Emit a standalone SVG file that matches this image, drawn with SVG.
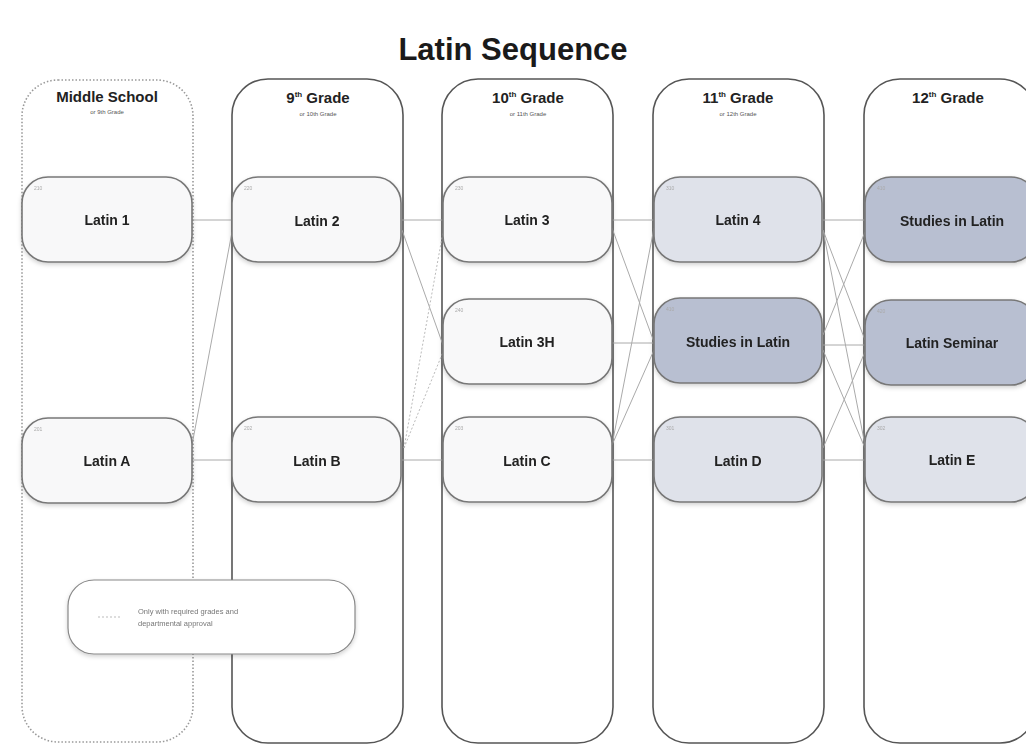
<svg xmlns="http://www.w3.org/2000/svg" width="1026" height="747" viewBox="0 0 1026 747">
<defs>
<style>
.col{fill:#fff;stroke:#555;stroke-width:1.6}
.colms{fill:#fff;stroke:#999;stroke-width:1.6;stroke-dasharray:1.5 2}
.node{stroke:#777;stroke-width:1.6}
.w{fill:#f8f8f9}
.l{fill:#dfe2ea}
.d{fill:#b8bfd1}
.t{font-family:"Liberation Sans",Arial,sans-serif;font-weight:bold;font-size:14px;fill:#222;text-anchor:middle}
.n{font-family:"Liberation Sans",Arial,sans-serif;font-size:5px;fill:#aaa}
.h{font-family:"Liberation Sans",Arial,sans-serif;font-weight:bold;font-size:15px;fill:#222;text-anchor:middle}
.s{font-family:"Liberation Sans",Arial,sans-serif;font-size:6px;fill:#555;text-anchor:middle}
.c{stroke:#aaa;stroke-width:1;fill:none}
.cd{stroke:#bbb;stroke-width:1;fill:none;stroke-dasharray:2 2}
</style>
<filter id="sh" x="-10%" y="-10%" width="130%" height="130%"><feDropShadow dx="0" dy="2" stdDeviation="2" flood-color="#000" flood-opacity="0.18"/></filter>
</defs>
<rect width="1026" height="747" fill="#fff"/>
<text x="513" y="60" font-family="Liberation Sans,Arial,sans-serif" font-weight="bold" font-size="31" fill="#1a1a1a" text-anchor="middle">Latin Sequence</text>

<g id="columns">
<g id="col-ms"><rect class="colms" x="22" y="80" width="171" height="662" rx="36"/>
<text class="h" x="107" y="102" font-size="12.5">Middle School</text><text class="s" x="107" y="114">or 9th Grade</text></g>
<g id="col-9"><rect class="col" x="232" y="79" width="171" height="664" rx="36"/>
<text class="h" x="318" y="103">9<tspan font-size="8" dy="-6">th</tspan><tspan dy="6"> Grade</tspan></text><text class="s" x="318" y="116">or 10th Grade</text></g>
<g id="col-10"><rect class="col" x="442" y="79" width="171" height="664" rx="36"/>
<text class="h" x="528" y="103">10<tspan font-size="8" dy="-6">th</tspan><tspan dy="6"> Grade</tspan></text><text class="s" x="528" y="116">or 11th Grade</text></g>
<g id="col-11"><rect class="col" x="653" y="79" width="171" height="664" rx="36"/>
<text class="h" x="738" y="103">11<tspan font-size="8" dy="-6">th</tspan><tspan dy="6"> Grade</tspan></text><text class="s" x="738" y="116">or 12th Grade</text></g>
<g id="col-12"><rect class="col" x="864" y="79" width="172" height="664" rx="36"/>
<text class="h" x="948" y="103">12<tspan font-size="8" dy="-6">th</tspan><tspan dy="6"> Grade</tspan></text></g>
</g>

<g id="connectors">
<line class="c" x1="192" y1="220" x2="232" y2="220"/>
<line class="c" x1="192" y1="460" x2="232" y2="460"/>
<line class="c" x1="192" y1="445" x2="232" y2="232"/>
<line class="c" x1="402" y1="220" x2="443" y2="220"/>
<line class="c" x1="402" y1="230" x2="443" y2="345"/>
<line class="cd" x1="404" y1="448" x2="443" y2="232"/>
<line class="cd" x1="404" y1="448" x2="443" y2="352"/>
<line class="c" x1="402" y1="460" x2="443" y2="460"/>
<line class="c" x1="612" y1="220" x2="654" y2="220"/>
<line class="c" x1="612" y1="228" x2="654" y2="342"/>
<line class="c" x1="612" y1="343" x2="654" y2="343"/>
<line class="c" x1="612" y1="445" x2="654" y2="228"/>
<line class="c" x1="612" y1="445" x2="654" y2="350"/>
<line class="c" x1="612" y1="460" x2="654" y2="460"/>
<line class="c" x1="823" y1="220" x2="865" y2="220"/>
<line class="c" x1="823" y1="230" x2="865" y2="340"/>
<line class="c" x1="823" y1="230" x2="865" y2="445"/>
<line class="c" x1="823" y1="335" x2="865" y2="232"/>
<line class="c" x1="823" y1="345" x2="865" y2="345"/>
<line class="c" x1="823" y1="350" x2="865" y2="448"/>
<line class="c" x1="823" y1="448" x2="865" y2="352"/>
<line class="c" x1="823" y1="460" x2="865" y2="460"/>
</g>

<g id="n-latin1" filter="url(#sh)"><rect class="node w" x="22" y="177" width="170" height="85" rx="26"/><text class="n" x="34" y="190">210</text><text class="t" x="107" y="225">Latin 1</text></g>
<g id="n-latinA" filter="url(#sh)"><rect class="node w" x="22" y="418" width="170" height="85" rx="26"/><text class="n" x="34" y="431">201</text><text class="t" x="107" y="466">Latin A</text></g>
<g id="n-latin2" filter="url(#sh)"><rect class="node w" x="232" y="177" width="169" height="85" rx="26"/><text class="n" x="244" y="190">220</text><text class="t" x="317" y="226">Latin 2</text></g>
<g id="n-latinB" filter="url(#sh)"><rect class="node w" x="232" y="417" width="169" height="85" rx="26"/><text class="n" x="244" y="430">202</text><text class="t" x="317" y="466">Latin B</text></g>
<g id="n-latin3" filter="url(#sh)"><rect class="node w" x="443" y="177" width="169" height="85" rx="26"/><text class="n" x="455" y="190">230</text><text class="t" x="527" y="225">Latin 3</text></g>
<g id="n-latin3h" filter="url(#sh)"><rect class="node w" x="443" y="299" width="169" height="85" rx="26"/><text class="n" x="455" y="312">240</text><text class="t" x="527" y="347">Latin 3H</text></g>
<g id="n-latinC" filter="url(#sh)"><rect class="node w" x="443" y="417" width="169" height="85" rx="26"/><text class="n" x="455" y="430">203</text><text class="t" x="527" y="466">Latin C</text></g>
<g id="n-latin4" filter="url(#sh)"><rect class="node l" x="654" y="177" width="168" height="85" rx="26"/><text class="n" x="666" y="190">310</text><text class="t" x="738" y="225">Latin 4</text></g>
<g id="n-studies11" filter="url(#sh)"><rect class="node d" x="654" y="298" width="168" height="85" rx="26"/><text class="n" x="666" y="311">410</text><text class="t" x="738" y="347">Studies in Latin</text></g>
<g id="n-latinD" filter="url(#sh)"><rect class="node l" x="654" y="417" width="168" height="85" rx="26"/><text class="n" x="666" y="430">301</text><text class="t" x="738" y="466">Latin D</text></g>
<g id="n-studies12" filter="url(#sh)"><rect class="node d" x="865" y="177" width="172" height="85" rx="26"/><text class="n" x="877" y="190">410</text><text class="t" x="952" y="226">Studies in Latin</text></g>
<g id="n-seminar" filter="url(#sh)"><rect class="node d" x="865" y="300" width="172" height="85" rx="26"/><text class="n" x="877" y="313">420</text><text class="t" x="952" y="348">Latin Seminar</text></g>
<g id="n-latinE" filter="url(#sh)"><rect class="node l" x="865" y="417" width="172" height="85" rx="26"/><text class="n" x="877" y="430">302</text><text class="t" x="952" y="465">Latin E</text></g>

<g id="legend" filter="url(#sh)">
<rect x="68" y="580" width="287" height="74" rx="26" fill="#fff" stroke="#888" stroke-width="1.2"/>
<line class="cd" x1="98" y1="617" x2="121" y2="617"/>
<text font-family="Liberation Sans,Arial,sans-serif" font-size="7.5" fill="#777" x="138" y="614">Only with required grades and</text>
<text font-family="Liberation Sans,Arial,sans-serif" font-size="7.5" fill="#777" x="138" y="626">departmental approval</text>
</g>
</svg>
